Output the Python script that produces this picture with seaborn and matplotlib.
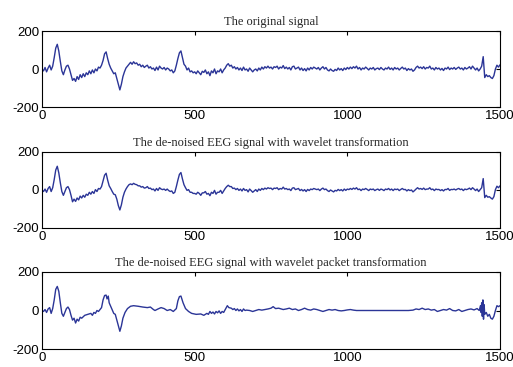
import numpy as np
import pandas as pd
import matplotlib
matplotlib.use("Agg")
import matplotlib.pyplot as plt
import seaborn as sns

titles = ["The original signal",
          "The de-noised EEG signal with wavelet transformation",
          "The de-noised EEG signal with wavelet packet transformation"]
x_ticks = [0, 500, 1000, 1500]
y_ticks = [-200, 0, 200]
y_tick_labels = ["-200", "0", "200"]

x_step = list(range(0, 1501, 5))

original = [
    0, -10, 8, -15, 5, 20, -5, 15, 60, 110, 130, 95, 40, -10, -30, -5, 15, 20, 0, -30,
    -60, -50, -65, -40, -55, -30, -45, -25, -40, -20, -30, -10, -25, -5, -20, 0, -10, 10, 5, 20,
    45, 80, 90, 55, 25, 5, -10, -25, -20, -50, -80, -110, -80, -40, -15, 5, 15, 25, 35, 25,
    38, 28, 32, 20, 25, 12, 20, 8, 15, 20, 5, 12, 0, 5, -8, 10, -5, 15, 5, 0,
    8, -5, 5, 0, -10, -5, -20, -10, 20, 55, 85, 95, 60, 25, 15, -5, 5, -15, -10, -20,
    -15, -25, -10, -20, -30, -12, -18, -5, -25, -15, -35, -10, -20, 0, -25, -10, -15, 0, -20, -5,
    5, 20, 28, 15, 20, 5, 12, 0, 8, -5, 5, -8, 10, -5, 0, -12, 5, -5, -15, -5,
    0, -10, 5, -5, 10, 0, 12, 5, 15, 5, 10, 0, 12, 8, 15, 0, 10, 5, 18, 2,
    10, 0, 8, -5, 12, 15, 0, 5, 10, -5, 5, -8, 2, -10, 5, -5, 8, 0, 10, 5,
    0, 8, -5, 5, 12, 0, 8, -5, -10, 0, -8, -12, -2, -8, 5, -5, 2, -8, 5, -3,
    8, 0, 10, 2, 12, 5, 15, 0, 8, -5, 5, 0, 10, 3, -5, 5, 0, 8, -5, 2,
    5, -3, 8, 0, -5, 5, 0, 10, -2, 5, -5, 8, 0, 5, -5, 3, 10, 0, 5, -8,
    2, -5, 0, -12, -5, 8, 15, 5, 10, 2, 12, 0, 8, 5, 15, 0, 5, -5, 8, 0,
    5, -5, 3, -8, 5, 0, 10, -3, 5, 0, 8, -2, 5, 10, 0, 5, -5, 8, 0, 5,
    12, 0, 15, 5, -5, 5, -10, 0, 15, 65, -45, -30, -40, -35, -45, -50, -35, 0, 20, 10, 22,
]

wavelet = [
    0, -8, 5, -12, 8, 18, -8, 12, 55, 105, 125, 90, 38, -8, -28, -8, 12, 18, 2, -28,
    -62, -48, -60, -42, -52, -32, -42, -28, -38, -22, -28, -12, -22, -8, -18, 2, -8, 8, 5, 18,
    48, 78, 88, 52, 22, 8, -8, -22, -25, -48, -82, -105, -78, -38, -12, 5, 18, 28, 32, 28,
    35, 30, 28, 22, 22, 15, 18, 10, 12, 18, 8, 10, 2, 5, -5, 8, -2, 12, 5, 2,
    5, -2, 5, -3, -8, -5, -18, -12, 18, 52, 82, 92, 58, 28, 12, -2, 2, -12, -12, -18,
    -18, -22, -12, -18, -28, -15, -15, -8, -22, -18, -30, -12, -18, -2, -22, -12, -12, -2, -18, -5,
    8, 18, 25, 18, 18, 8, 10, 2, 8, -2, 5, -5, 8, -2, 2, -10, 5, -3, -12, -5,
    2, -8, 5, -2, 8, 2, 10, 5, 12, 8, 10, 2, 10, 8, 12, 2, 8, 5, 15, 5,
    8, 2, 5, -3, 10, 12, 2, 5, 8, -3, 3, -5, 2, -8, 3, -3, 5, 2, 8, 5,
    2, 5, -3, 5, 10, 2, 5, -3, -8, 0, -5, -10, -2, -5, 3, -3, 2, -5, 5, -2,
    5, 2, 8, 3, 10, 5, 12, 2, 5, -3, 5, 2, 8, 3, -3, 5, 2, 5, -3, 2,
    5, -2, 5, 2, -3, 5, 2, 8, 0, 5, -3, 5, 2, 5, -3, 3, 8, 2, 3, -5,
    2, -3, 0, -10, -3, 5, 12, 5, 8, 3, 10, 2, 5, 5, 12, 2, 5, -3, 5, 2,
    3, -3, 2, -5, 3, 2, 8, -2, 3, 2, 5, 0, 5, 8, 2, 5, -3, 5, 2, 5,
    10, 2, 12, 5, -3, 5, -8, 2, 12, 60, -40, -28, -38, -35, -42, -48, -35, 2, 20, 12, 22,
]

packet_x = [
    0, 5, 10, 15, 20, 25, 30, 35, 40, 45, 50, 55, 60, 65, 70, 75, 80, 85, 90, 95,
    100, 105, 110, 115, 120, 125, 130, 140, 150, 160, 165, 170, 175, 180, 185, 190, 195,
    200, 205, 210, 213, 217, 220, 228, 235, 240, 245, 250, 255, 260, 265, 272, 280, 290,
    300, 315, 330, 345, 355, 365, 370, 380, 390, 400, 410, 420, 430, 440, 445, 450, 455,
    462, 470, 480, 490, 505, 520, 530, 540, 545, 550, 555, 560, 565, 570, 575, 580, 585,
    590, 595, 600, 607, 612, 620, 625, 630, 635, 640, 645, 650, 655, 660, 665, 670, 680,
    690, 700, 710, 720, 730, 740, 750, 757, 765, 775, 790, 800, 810, 820, 830, 840, 850,
    860, 870, 880, 890, 900, 910, 920, 930, 940, 950, 960, 970, 980, 990, 1000, 1010,
    1020, 1030, 1040, 1100, 1150, 1200, 1215, 1225, 1235, 1245, 1255, 1265, 1275, 1285,
    1295, 1305, 1315, 1325, 1335, 1345, 1355, 1365, 1375, 1385, 1395, 1405, 1415, 1425,
    1432, 1436, 1438, 1440, 1442, 1444, 1446, 1448, 1450, 1455, 1460, 1465, 1470, 1475,
    1480, 1485, 1490, 1495, 1500,
]
packet = [
    0, -5, 5, -10, 8, 15, -15, 10, 55, 110, 125, 100, 40, -15, -30, -10, 10, 18, 5, -25,
    -50, -40, -65, -45, -55, -35, -40, -25, -20, -15, -25, -10, -15, 0, -5, 5, 15,
    55, 78, 80, 60, 75, 40, 10, -15, -20, -50, -80, -108, -80, -40, -10, 10, 22,
    25, 22, 18, 15, 18, 5, 0, 8, 15, 10, 0, 5, -5, 10, 50, 72, 75,
    40, 10, -5, -15, -20, -18, -25, -15, -20, -5, -15, -8, -18, -5, -12, -2, -15,
    -5, -10, 5, 25, 15, 12, 5, 10, 0, 8, -2, 5, -5, 8, 0, 2, 0,
    -5, 0, 5, 2, 5, 8, 12, 20, 10, 12, 5, 8, 12, 5, 8, 0, 5,
    12, 5, 2, 8, 5, 0, -5, 0, 5, 2, 5, 0, -2, 0, 3, 5,
    2, 0, 0, 0, 0, 0, 2, 8, 5, 12, 5, 8, 2, 5,
    -5, 0, 5, 2, 10, 0, -2, 5, -5, 0, 5, 8, 3, 10,
    0, 25, -10, 40, -30, 55, -45, 30, -20, -10, -30, -20, -40, -45,
    -30, 0, 25, 20, 25,
]

series = [
    pd.DataFrame({"x": x_step, "y": original}),
    pd.DataFrame({"x": x_step, "y": wavelet}),
    pd.DataFrame({"x": packet_x, "y": packet}),
]

sns.set_style("white")
plt.rcParams["font.family"] = ["Liberation Sans", "DejaVu Sans"]

fig = plt.figure(figsize=(5.13, 3.67), dpi=100)
W, H = 513.0, 367.0
boxes = [(31, 107), (152, 228), (272, 349)]
line_color = "#2b3597"

for (top, bottom), df, title in zip(boxes, series, titles):
    ax = fig.add_axes([42 / W, 1 - bottom / H, 458 / W, (bottom - top) / H])
    sns.lineplot(data=df, x="x", y="y", ax=ax, color=line_color,
                 linewidth=1.0, estimator=None, sort=False)
    ax.set_xlim(0, 1500)
    ax.set_ylim(-200, 200)
    ax.set_xticks(x_ticks)
    ax.set_yticks(y_ticks)
    ax.set_yticklabels(y_tick_labels)
    ax.set_xlabel("")
    ax.set_ylabel("")
    ax.tick_params(direction="in", length=3, width=0.8, top=True, right=True,
                   labelsize=9.5, pad=2, colors="black")
    for s in ax.spines.values():
        s.set_visible(True)
        s.set_color("black")
        s.set_linewidth(0.8)
    ax.set_title(title, fontsize=9, family=["Liberation Serif", "DejaVu Serif"], pad=4)

fig.savefig("out.png", dpi=100, facecolor="white")
